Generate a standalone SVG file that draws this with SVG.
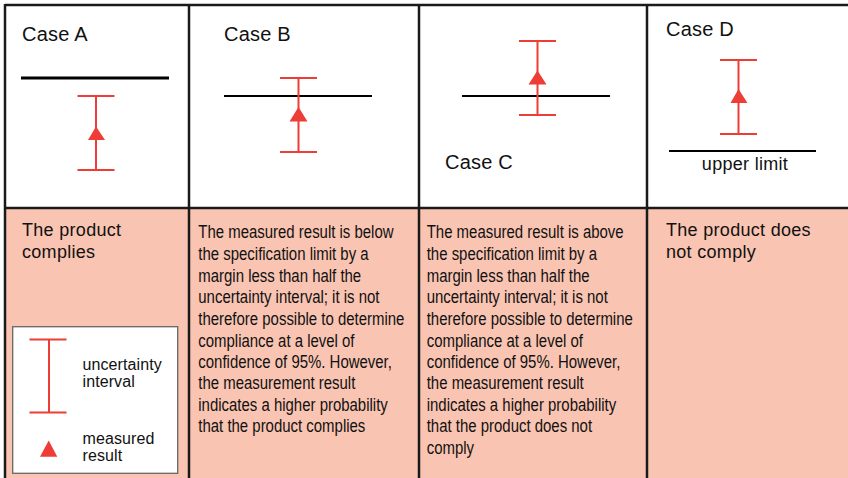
<svg xmlns="http://www.w3.org/2000/svg" width="848" height="478" viewBox="0 0 848 478">
<style>
.grid{stroke:#1a1a1a;stroke-width:2.5;fill:none}
.lim{stroke:#000;fill:none}
.eb{stroke:#ee3d36;stroke-width:2;fill:none}
.tri{fill:#ee3d36}
.t{font-family:"Liberation Sans",Arial,sans-serif;fill:#111}
.h{font-size:20px;letter-spacing:0.2px}
.b{font-size:18px;letter-spacing:0.3px}
.n{font-size:17.5px}
.lg{font-size:16px;letter-spacing:0.1px}
</style>
<defs>
<g id="bar"><line class="eb" x1="-18.5" y1="0" x2="18.5" y2="0"/><line class="eb" x1="0" y1="0" x2="0" y2="74"/><line class="eb" x1="-18.5" y1="74" x2="18.5" y2="74"/></g>
</defs>
<rect x="0" y="0" width="848" height="478" fill="#fff"/>
<rect x="5" y="208" width="843" height="270" fill="#f9c4b1"/>
<g id="grid">
<line class="grid" x1="5" y1="5" x2="848" y2="5"/>
<line class="grid" x1="5" y1="208" x2="848" y2="208"/>
<line class="grid" x1="5" y1="4" x2="5" y2="478"/>
<line class="grid" x1="189" y1="4" x2="189" y2="478"/>
<line class="grid" x1="419" y1="4" x2="419" y2="478"/>
<line class="grid" x1="647" y1="4" x2="647" y2="478"/>
</g>
<g id="caseA">
<text class="t h" x="22" y="41">Case A</text>
<line class="lim" x1="21" y1="78" x2="169" y2="78" stroke-width="3"/>
<use href="#bar" x="96" y="96"/>
<polygon class="tri" points="96,126.5 88,140 105,140"/>
</g>
<g id="caseB">
<text class="t h" x="224" y="41">Case B</text>
<line class="lim" x1="224" y1="96" x2="372" y2="96" stroke-width="2.2"/>
<use href="#bar" x="298.5" y="78"/>
<polygon class="tri" points="298.5,107 289.5,121.5 307.5,121.5"/>
</g>
<g id="caseC">
<line class="lim" x1="462" y1="96" x2="610" y2="96" stroke-width="2.2"/>
<use href="#bar" x="537.5" y="41"/>
<polygon class="tri" points="537.5,70.5 528.5,84.5 546.5,84.5"/>
<text class="t h" x="445" y="169">Case C</text>
</g>
<g id="caseD">
<text class="t h" x="666" y="36">Case D</text>
<use href="#bar" x="738.5" y="60"/>
<polygon class="tri" points="738.5,89 730.5,103 747.5,103"/>
<line class="lim" x1="669" y1="151" x2="816" y2="151" stroke-width="2.2"/>
<text class="t b" x="745" y="170" text-anchor="middle">upper limit</text>
</g>
<g id="descA">
<text class="t b" x="22" y="236">The product</text>
<text class="t b" x="22" y="258">complies</text>
</g>
<g id="legend">
<rect x="12.7" y="326.7" width="165" height="146.6" fill="#fff" stroke="#666" stroke-width="1.3"/>
<line class="eb" x1="29.5" y1="339.5" x2="66.5" y2="339.5"/>
<line class="eb" x1="49" y1="339.5" x2="49" y2="412.5"/>
<line class="eb" x1="29.5" y1="412.5" x2="66.5" y2="412.5"/>
<polygon class="tri" points="48.7,440.5 40,456.7 57.3,456.7"/>
<text class="t lg" x="82.5" y="369.5">uncertainty</text>
<text class="t lg" x="82.5" y="387">interval</text>
<text class="t lg" x="82.5" y="443.5">measured</text>
<text class="t lg" x="82.5" y="461">result</text>
</g>
<g id="descB" transform="translate(198.3,0) scale(0.855,1)">
<text class="t n" x="0" y="238.5">The measured result is below</text>
<text class="t n" x="0" y="260">the specification limit by a</text>
<text class="t n" x="0" y="281.7">margin less than half the</text>
<text class="t n" x="0" y="303.3">uncertainty interval; it is not</text>
<text class="t n" x="0" y="325">therefore possible to determine</text>
<text class="t n" x="0" y="346.7">compliance at a level of</text>
<text class="t n" x="0" y="368">confidence of 95%. However,</text>
<text class="t n" x="0" y="389.5">the measurement result</text>
<text class="t n" x="0" y="411">indicates a higher probability</text>
<text class="t n" x="0" y="432.5">that the product complies</text>
</g>
<g id="descC" transform="translate(426.7,0) scale(0.855,1)">
<text class="t n" x="0" y="238.5">The measured result is above</text>
<text class="t n" x="0" y="260">the specification limit by a</text>
<text class="t n" x="0" y="281.7">margin less than half the</text>
<text class="t n" x="0" y="303.3">uncertainty interval; it is not</text>
<text class="t n" x="0" y="325">therefore possible to determine</text>
<text class="t n" x="0" y="346.7">compliance at a level of</text>
<text class="t n" x="0" y="368">confidence of 95%. However,</text>
<text class="t n" x="0" y="389.5">the measurement result</text>
<text class="t n" x="0" y="411">indicates a higher probability</text>
<text class="t n" x="0" y="432.5">that the product does not</text>
<text class="t n" x="0" y="454">comply</text>
</g>
<g id="descD">
<text class="t b" x="666" y="236">The product does</text>
<text class="t b" x="666" y="258">not comply</text>
</g>
</svg>
